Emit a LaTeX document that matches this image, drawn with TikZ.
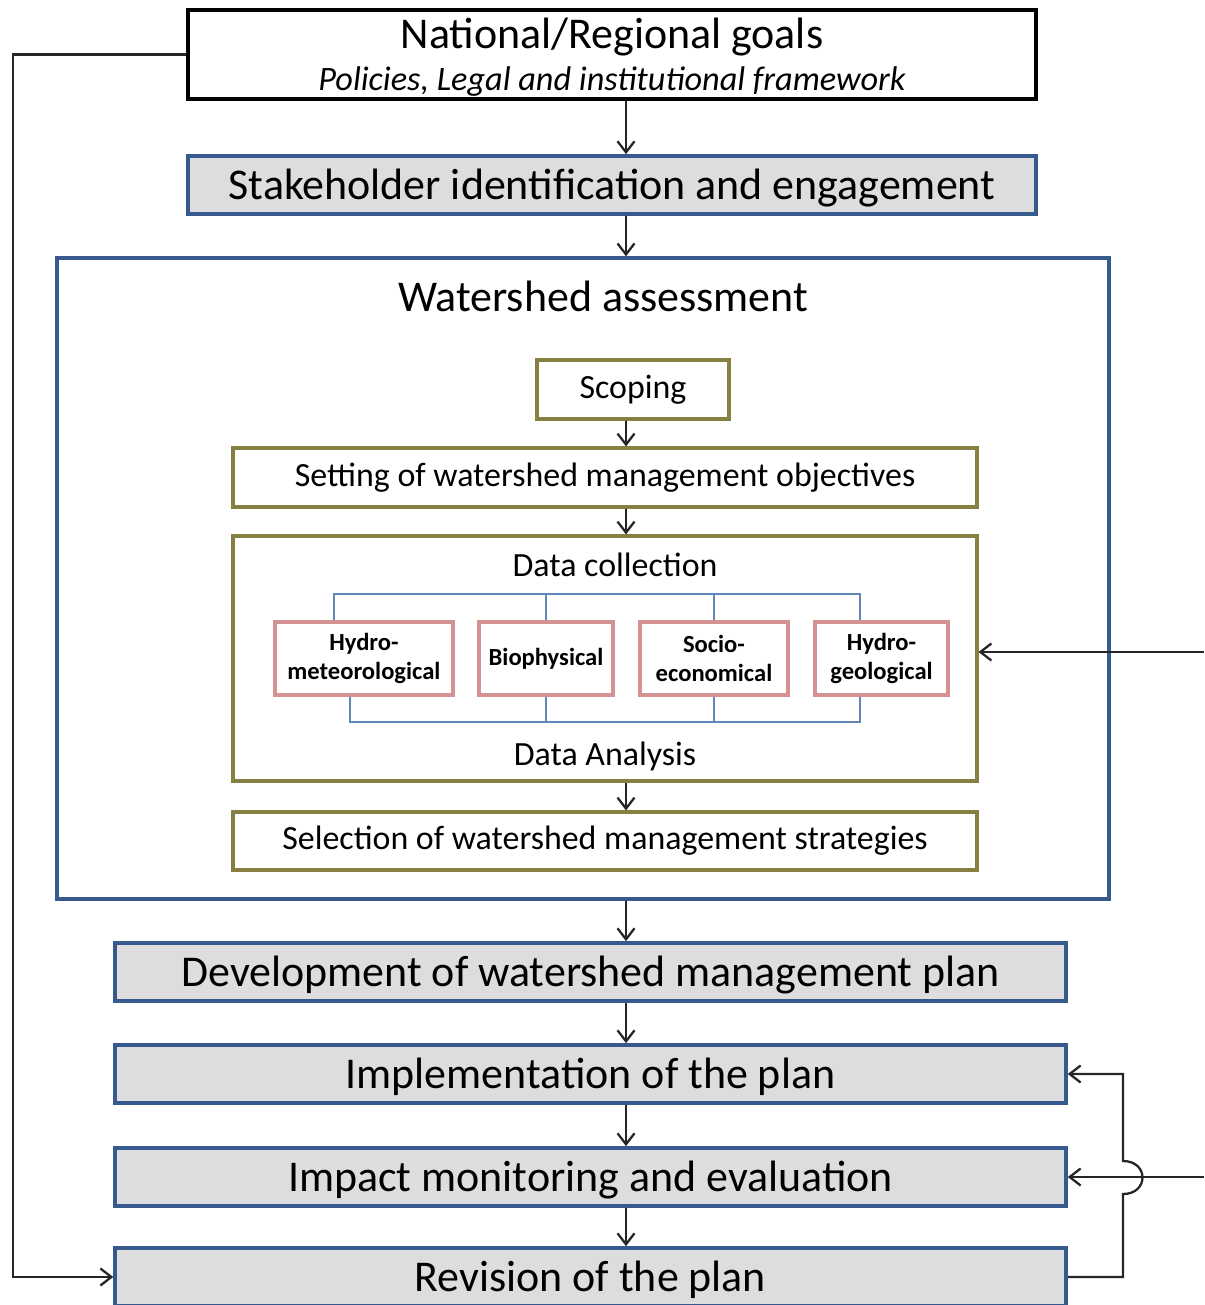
\documentclass[tikz,border=0pt]{standalone}
\usepackage{fontspec}
\setmainfont{Carlito}
\usetikzlibrary{arrows.meta}

\definecolor{boxblue}{RGB}{55,90,142}
\definecolor{boxgray}{RGB}{221,221,221}
\definecolor{olive}{RGB}{134,128,66}
\definecolor{rose}{RGB}{212,146,146}
\definecolor{linkblue}{RGB}{95,135,185}

\tikzset{
  arr/.style={-{Straight Barb[length=2.2mm,width=3.4mm]},line width=1.3pt,black!85},
  stepbox/.style={draw=boxblue,line width=2.1pt,fill=boxgray,inner sep=0pt,
    text height=20pt,text depth=4pt,
    minimum height=1.16cm,font=\fontsize{25}{29}\selectfont},
  subbox/.style={draw=olive,line width=1.8pt,fill=white,inner sep=0pt,
    minimum height=1.18cm,font=\fontsize{19.3}{23}\selectfont},
  datbox/.style={draw=rose,line width=1.8pt,fill=white,inner sep=0pt,align=center,
    minimum height=1.46cm,font=\fontsize{14}{17}\selectfont\bfseries},
  link/.style={draw=linkblue,line width=1.1pt}
}

\begin{document}
\begin{tikzpicture}[x=0.02cm,y=-0.02cm]
\useasboundingbox (0,0) rectangle (1204,1305);

% top of the chain
\node[draw,line width=2.4pt,inner sep=0pt,minimum width=16.96cm,minimum height=1.78cm] (nat) at (612,54.5) {};
\node[font=\fontsize{25}{29}\selectfont] (natt) at (612,37) {National/Regional goals};
\node[font=\fontsize{19.5}{23}\selectfont\itshape] (nats) at (612,82) {Policies, Legal and institutional framework};
\node[stepbox,minimum width=16.96cm] (stake) at (612,185) {Stakeholder identification and engagement};

% assessment block
\node[draw=boxblue,line width=2pt,inner sep=0pt,minimum width=21.04cm,minimum height=12.82cm] (ws) at (583,578.5) {};
\node[font=\fontsize{25}{29}\selectfont] (wst) at (603,296) {Watershed assessment};
\node[subbox,minimum width=3.84cm] (scope) at (633,389.5) {Scoping};
\node[subbox,minimum width=14.88cm] (obj) at (605,477.5) {Setting of watershed management objectives};
\node[subbox,minimum width=14.88cm,minimum height=4.9cm] (data) at (605,658.5) {};
\node[font=\fontsize{19.3}{23}\selectfont] (coll) at (615,565) {Data collection};
\node[font=\fontsize{19.3}{23}\selectfont] (anal) at (605,756) {Data Analysis};
\node[subbox,minimum width=14.88cm,minimum height=1.16cm] (sel) at (605,841) {Selection of watershed management strategies};

\node[datbox,minimum width=3.56cm] (hm) at (364,658.5) {Hydro-\\meteorological};
\node[datbox,minimum width=2.68cm] (bio) at (546,658.5) {Biophysical};
\node[datbox,minimum width=2.96cm] (soc) at (714,658.5) {Socio-\\economical};
\node[datbox,minimum width=2.66cm] (hg) at (881.5,658.5) {Hydro-\\geological};

\coordinate (ct) at (334,594);
\coordinate (ctr) at (860,594);
\coordinate (cb) at (350,722);
\coordinate (cbr) at (860,722);
\draw[link] (hm.north -| ct) -- (ct) -- (ctr) -- (hg.north -| ctr);
\draw[link] (bio.north) -- (bio.north |- ct);
\draw[link] (soc.north) -- (soc.north |- ct);
\draw[link] (hm.south -| cb) -- (cb) -- (cbr) -- (hg.south -| cbr);
\draw[link] (bio.south) -- (bio.south |- cb);
\draw[link] (soc.south) -- (soc.south |- cb);

% plan steps
\node[stepbox,minimum width=19.02cm] (dev) at (590.5,972) {Development of watershed management plan};
\node[stepbox,minimum width=19.02cm] (imp) at (590.5,1074) {Implementation of the plan};
\node[stepbox,minimum width=19.02cm] (mon) at (590.5,1177) {Impact monitoring and evaluation};
\node[stepbox,minimum width=19.02cm] (rev) at (590.5,1277) {Revision of the plan};

% main flow
\coordinate (ax) at (626,0);
\draw[arr] (nat.south -| ax) -- (stake.north -| ax);
\draw[arr] (stake.south -| ax) -- (ws.north -| ax);
\draw[arr] (scope.south -| ax) -- (obj.north -| ax);
\draw[arr] (obj.south -| ax) -- (data.north -| ax);
\draw[arr] (data.south -| ax) -- (sel.north -| ax);
\draw[arr] (ws.south -| ax) -- (dev.north -| ax);
\draw[arr] (dev.south -| ax) -- (imp.north -| ax);
\draw[arr] (imp.south -| ax) -- (mon.north -| ax);
\draw[arr] (mon.south -| ax) -- (rev.north -| ax);

% feedback
\coordinate (fl) at (13,0);
\draw[arr] (nat.west) -- (nat.west -| fl) |- (rev.west);
\coordinate (fin1) at (1204,652);
\draw[arr] (fin1) -- (data.east |- fin1);
\coordinate (fin2) at (1204,1177);
\draw[arr] (fin2) -- (mon.east);
\coordinate (hopb) at (1123,1194);
\coordinate (hopt) at (1123,1161);
\draw[arr] (rev.east) -| (hopb) .. controls +(26,0) and +(26,0) .. (hopt) |- (imp.east);
\end{tikzpicture}
\end{document}
